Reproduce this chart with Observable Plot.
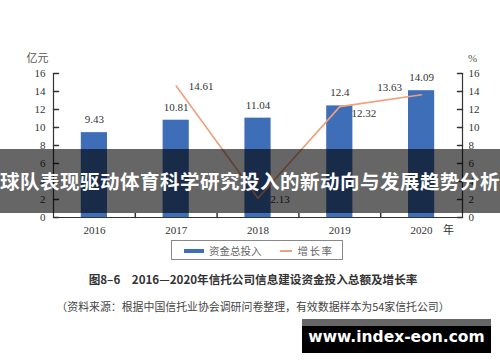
<!DOCTYPE html>
<html><head><meta charset="utf-8">
<script src="https://cdn.jsdelivr.net/npm/d3@7"></script>
<script src="https://cdn.jsdelivr.net/npm/@observablehq/plot@0.6"></script>
<style>
html,body{margin:0;padding:0;background:#fff;}
#wrap{position:relative;width:500px;height:362px;overflow:hidden;font-family:"Liberation Serif","DejaVu Serif",serif;}
#chart{position:absolute;left:0;top:0;}
.abs{position:absolute;white-space:nowrap;}
</style></head>
<body><div id="wrap"><div id="chart"></div></div>
<script>
const years = ["2016","2017","2018","2019","2020"];
const investment = [9.43, 10.81, 11.04, 12.4, 14.09];
const growth = [null, 14.61, 2.13, 12.32, 13.63];
const yTicks = [0,2,4,6,8,10,12,14,16];
const seriesNames = ["资金总投入","增长率"];
const bannerText = "球队表现驱动体育科学研究投入的新动向与发展趋势分析";
const captionText = "图8–6　2016—2020年信托公司信息建设资金投入总额及增长率";
const sourceText = "（资料来源：根据中国信托业协会调研问卷整理，有效数据样本为54家信托公司）";
const watermarkText = "www.index-eon.com";

const barColor = "#3e6eb8", lineColor = "#f0a07c", axisColor = "#333", textColor = "#333";
const half = 0.16;

const bars = years.map((y,i)=>({i, year:y, v:investment[i]}));
const pts = years.map((y,i)=>({i, year:y, v:growth[i]})).filter(d=>d.v!=null);
const boundaries = d3.range(1, years.length);
const labelOffsets = {"2017":[25,0],"2018":[22,1],"2019":[24,7],"2020":[-32,-7]};
const tickShape = {draw(ctx, l){ctx.moveTo(0,0); ctx.lineTo(0,-l);}};

const growthLabels = pts.map(p => Plot.text([p], {x: d=>d.i+0.5, y: "v", text: d=>String(d.v),
  dx: labelOffsets[p.year][0], dy: labelOffsets[p.year][1], lineAnchor: "middle", fill: textColor, fontSize: 11}));

const chart = Plot.plot({
  width: 500, height: 240,
  marginLeft: 53, marginRight: 38, marginTop: 73, marginBottom: 23,
  style: {fontFamily: "Liberation Serif, serif", fontSize: "11px", color: textColor, background: "transparent"},
  x: {domain: [0, years.length], axis: null},
  y: {domain: [0, 16], axis: null},
  marks: [
    Plot.rectY(bars, {x1: d=>d.i+0.5-half, x2: d=>d.i+0.5+half, y: "v", fill: barColor}),
    Plot.line(pts, {x: d=>d.i+0.5, y: "v", stroke: lineColor, strokeWidth: 1.6}),
    Plot.ruleX([0], {stroke: axisColor, strokeWidth: 1.2}),
    Plot.ruleX([years.length], {stroke: axisColor, strokeWidth: 1.2}),
    Plot.ruleY([0], {stroke: axisColor, strokeWidth: 1.2}),
    Plot.vector(yTicks, {y: d=>d, frameAnchor: "left", length: 5, rotate: 90, anchor: "start", shape: tickShape, stroke: axisColor}),
    Plot.vector(yTicks, {y: d=>d, frameAnchor: "right", length: 5, rotate: -90, anchor: "start", shape: tickShape, stroke: axisColor}),
    Plot.vector(boundaries, {x: d=>d, y: 0, length: 4, rotate: 0, anchor: "start", shape: tickShape, stroke: axisColor}),
    Plot.text(yTicks, {y: d=>d, frameAnchor: "left", text: d=>String(d), textAnchor: "end", dx: -8, fill: textColor, fontSize: 11}),
    Plot.text(yTicks, {y: d=>d, frameAnchor: "right", text: d=>String(d), textAnchor: "start", dx: 6, fill: textColor, fontSize: 11}),
    Plot.text(years, {x: (d,i)=>i+0.5, y: 0, text: d=>d, dy: 13, lineAnchor: "middle", fill: textColor, fontSize: 11}),
    Plot.text(["年"], {x: years.length, y: 0, text: d=>d, dx: -14, dy: 13, lineAnchor: "middle", fill: textColor, fontSize: 11, fontFamily: "Noto Sans CJK SC"}),
    Plot.text(["亿元"], {x: 0, y: 16, text: d=>d, dx: -16, dy: -15, lineAnchor: "middle", fill: "#555", fontSize: 11, fontFamily: "Noto Sans CJK SC"}),
    Plot.text(["%"], {x: years.length, y: 16, text: d=>d, dx: 10, dy: -15, lineAnchor: "middle", fill: "#555", fontSize: 11}),
    Plot.text(bars, {x: d=>d.i+0.5, y: "v", text: d=>String(d.v), dy: -13, lineAnchor: "middle", fill: textColor, fontSize: 11}),
    ...growthLabels
  ]
});
document.getElementById("chart").appendChild(chart);

const wrap = document.getElementById("wrap");
function add(html, css){ const d=document.createElement("div"); d.className="abs"; d.innerHTML=html; Object.assign(d.style, css); wrap.appendChild(d); return d; }

add(`<span style="display:inline-block;width:20px;height:3.5px;background:${barColor};vertical-align:middle;margin-right:5px"></span><span style="vertical-align:middle">${seriesNames[0]}</span><span style="display:inline-block;width:12px;height:1.6px;background:${lineColor};vertical-align:middle;margin:0 6px 0 18px"></span><span style="vertical-align:middle;letter-spacing:1.5px">${seriesNames[1]}</span>`,
  {left:"171px", top:"240px", width:"170px", height:"18px", border:"1.2px solid #888", boxSizing:"content-box", fontFamily:"'Noto Sans CJK SC'", fontSize:"10.5px", color:"#666", lineHeight:"18px", textIndent:"12px"});

add(captionText, {left:"0", width:"506px", textAlign:"center", top:"270px", fontFamily:"'Noto Sans CJK SC'", fontWeight:"bold", fontSize:"11.6px", color:"#333", lineHeight:"18px"});
add(sourceText, {left:"0", width:"506px", textAlign:"center", top:"298px", fontFamily:"'Noto Sans CJK SC'", fontSize:"10.9px", color:"#444", lineHeight:"16px"});

const banner = add("", {left:"0", top:"149px", width:"500px", height:"64px", background:"rgba(0,0,0,0.6)"});
const bt = document.createElement("span");
bt.textContent = bannerText;
Object.assign(bt.style, {position:"absolute", left:"50%", top:"0", transform:"translateX(-50%)", color:"#fff", fontFamily:"'Noto Sans CJK SC'", fontWeight:"bold", fontSize:"19.5px", lineHeight:"64px", letterSpacing:"0.5px", whiteSpace:"nowrap"});
banner.appendChild(bt);

add("", {left:"302px", top:"319px", width:"189px", height:"7px", background:"#666"});
add(watermarkText, {left:"302px", top:"326px", width:"189px", height:"27px", background:"#000", color:"#fff", fontFamily:"'DejaVu Sans'", fontWeight:"bold", fontSize:"15.5px", lineHeight:"22px", textAlign:"center"});
</script></body></html>
